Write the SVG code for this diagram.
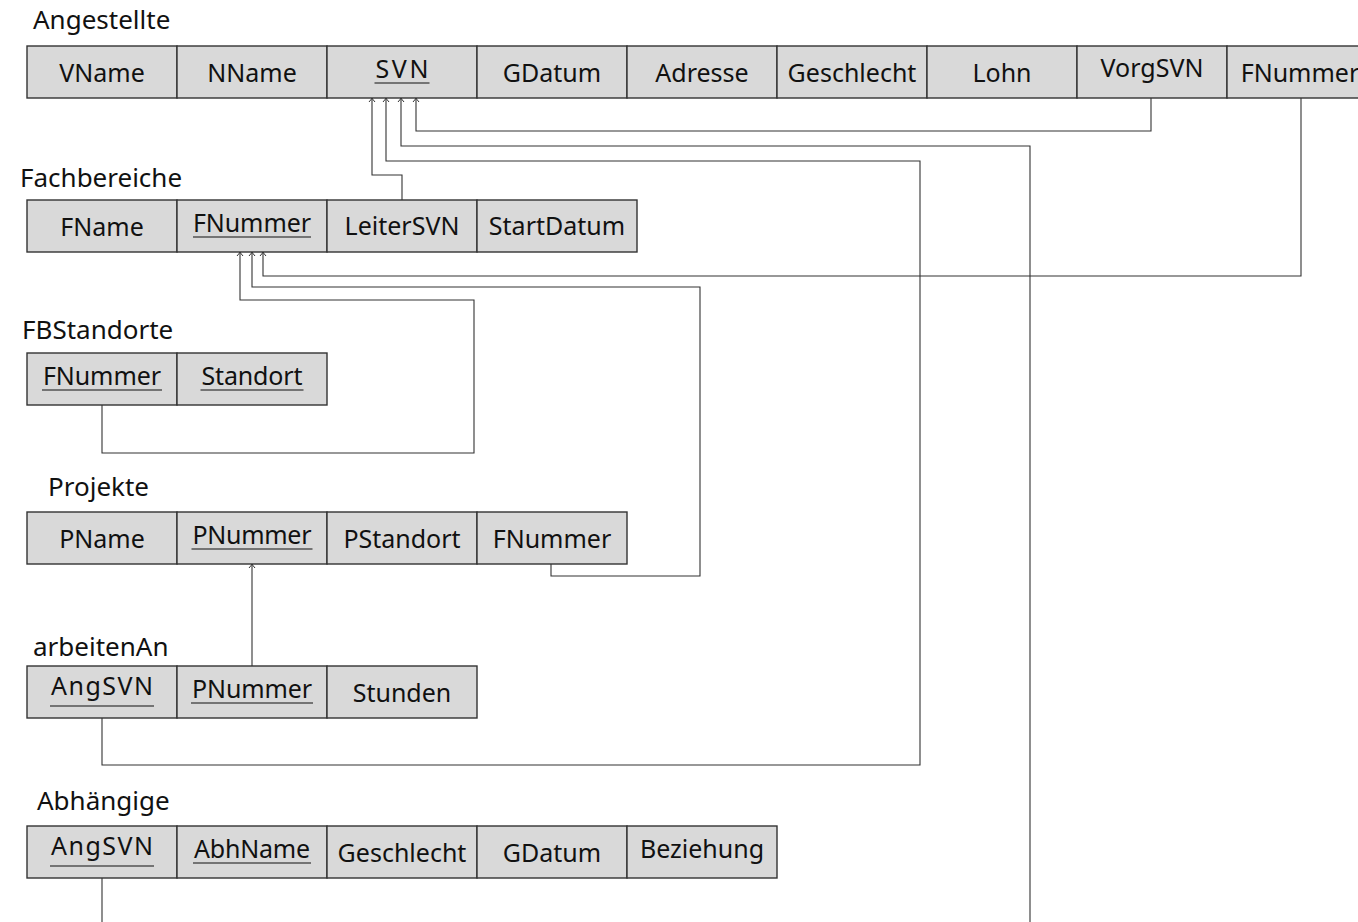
<svg xmlns="http://www.w3.org/2000/svg" width="1358" height="922" viewBox="0 0 1358 922">
  <defs>
    <marker id="tip" markerWidth="10" markerHeight="10" viewBox="-5 -5 10 10" refX="0" refY="0" orient="auto" markerUnits="userSpaceOnUse">
      <path d="M-4,-3 Q-1.5,-0.8 0,0 Q-1.5,0.8 -4,3" fill="none" stroke="#333" stroke-width="1"/>
    </marker>
    <style>
      .cell { fill: #d9d9d9; stroke: #333; stroke-width: 1.4; }
      .t { font-family: "Noto Sans", "Open Sans", sans-serif; font-size: 25px; fill: #111; text-anchor: middle; }
      .title { font-family: "Noto Sans", "Open Sans", sans-serif; font-size: 26px; fill: #111; }
      .ul { stroke: #111; stroke-width: 1.2; }
      .conn { fill: none; stroke: #333; stroke-width: 1.1; }
      .arr { marker-end: url(#tip); }
    </style>
  </defs>

  <!-- Angestellte -->
  <g id="angestellte">
    <text class="title" x="33" y="29">Angestellte</text>
    <rect class="cell" x="27" y="46" width="150" height="52"/>
    <rect class="cell" x="177" y="46" width="150" height="52"/>
    <rect class="cell" x="327" y="46" width="150" height="52"/>
    <rect class="cell" x="477" y="46" width="150" height="52"/>
    <rect class="cell" x="627" y="46" width="150" height="52"/>
    <rect class="cell" x="777" y="46" width="150" height="52"/>
    <rect class="cell" x="927" y="46" width="150" height="52"/>
    <rect class="cell" x="1077" y="46" width="150" height="52"/>
    <rect class="cell" x="1227" y="46" width="150" height="52"/>
    <text class="t" x="102" y="82">VName</text>
    <text class="t" x="252" y="82">NName</text>
    <text class="t" x="402" y="78" textLength="53">SVN</text>
    <line class="ul" x1="374.5" y1="83" x2="429.5" y2="83"/>
    <text class="t" x="552" y="82">GDatum</text>
    <text class="t" x="702" y="82">Adresse</text>
    <text class="t" x="852" y="82">Geschlecht</text>
    <text class="t" x="1002" y="82">Lohn</text>
    <text class="t" x="1152" y="77">VorgSVN</text>
    <text class="t" x="1300" y="82">FNummer</text>
  </g>

  <!-- Fachbereiche -->
  <g id="fachbereiche">
    <text class="title" x="20" y="187">Fachbereiche</text>
    <rect class="cell" x="27" y="200" width="150" height="52"/>
    <rect class="cell" x="177" y="200" width="150" height="52"/>
    <rect class="cell" x="327" y="200" width="150" height="52"/>
    <rect class="cell" x="477" y="200" width="160" height="52"/>
    <text class="t" x="102" y="236">FName</text>
    <text class="t" x="252" y="232" textLength="118">FNummer</text>
    <line class="ul" x1="193" y1="237" x2="311" y2="237"/>
    <text class="t" x="402" y="235">LeiterSVN</text>
    <text class="t" x="557" y="235">StartDatum</text>
  </g>

  <!-- FBStandorte -->
  <g id="fbstandorte">
    <text class="title" x="22" y="339">FBStandorte</text>
    <rect class="cell" x="27" y="353" width="150" height="52"/>
    <rect class="cell" x="177" y="353" width="150" height="52"/>
    <text class="t" x="102" y="385" textLength="118">FNummer</text>
    <line class="ul" x1="42" y1="390" x2="162" y2="390"/>
    <text class="t" x="252" y="385" textLength="101">Standort</text>
    <line class="ul" x1="200.5" y1="390" x2="303.5" y2="390"/>
  </g>

  <!-- Projekte -->
  <g id="projekte">
    <text class="title" x="48" y="496">Projekte</text>
    <rect class="cell" x="27" y="512" width="150" height="52"/>
    <rect class="cell" x="177" y="512" width="150" height="52"/>
    <rect class="cell" x="327" y="512" width="150" height="52"/>
    <rect class="cell" x="477" y="512" width="150" height="52"/>
    <text class="t" x="102" y="548">PName</text>
    <text class="t" x="252" y="544" textLength="119">PNummer</text>
    <line class="ul" x1="191.5" y1="549" x2="312.5" y2="549"/>
    <text class="t" x="402" y="548">PStandort</text>
    <text class="t" x="552" y="548">FNummer</text>
  </g>

  <!-- arbeitenAn -->
  <g id="arbeitenan">
    <text class="title" x="33" y="656">arbeitenAn</text>
    <rect class="cell" x="27" y="666" width="150" height="52"/>
    <rect class="cell" x="177" y="666" width="150" height="52"/>
    <rect class="cell" x="327" y="666" width="150" height="52"/>
    <text class="t" x="102" y="695" textLength="102">AngSVN</text>
    <line class="ul" x1="50" y1="706" x2="154" y2="706"/>
    <text class="t" x="252" y="698" textLength="120">PNummer</text>
    <line class="ul" x1="191" y1="703" x2="313" y2="703"/>
    <text class="t" x="402" y="702">Stunden</text>
  </g>

  <!-- Abhängige -->
  <g id="abhaengige">
    <text class="title" x="37" y="810">Abhängige</text>
    <rect class="cell" x="27" y="826" width="150" height="52"/>
    <rect class="cell" x="177" y="826" width="150" height="52"/>
    <rect class="cell" x="327" y="826" width="150" height="52"/>
    <rect class="cell" x="477" y="826" width="150" height="52"/>
    <rect class="cell" x="627" y="826" width="150" height="52"/>
    <text class="t" x="102" y="855" textLength="102">AngSVN</text>
    <line class="ul" x1="50" y1="866" x2="154" y2="866"/>
    <text class="t" x="252" y="858" textLength="116">AbhName</text>
    <line class="ul" x1="193" y1="863" x2="311" y2="863"/>
    <text class="t" x="402" y="862">Geschlecht</text>
    <text class="t" x="552" y="862">GDatum</text>
    <text class="t" x="702" y="858">Beziehung</text>
  </g>

  <!-- foreign keys -->
  <g id="connectors">
    <path class="conn arr" d="M402,200 V175 H372 V98"/>
    <path class="conn arr" d="M102,718 V765 H920 V161 H386 V98"/>
    <path class="conn arr" d="M102,878 V940 H1030 V146 H401 V98"/>
    <path class="conn arr" d="M1151,98 V131 H416 V98"/>
    <path class="conn arr" d="M1301,98 V276 H263 V252"/>
    <path class="conn arr" d="M102,405 V453 H474 V300 H240 V252"/>
    <path class="conn arr" d="M551,564 V576 H700 V287 H252 V252"/>
    <path class="conn arr" d="M252,666 V564"/>
  </g>
</svg>
